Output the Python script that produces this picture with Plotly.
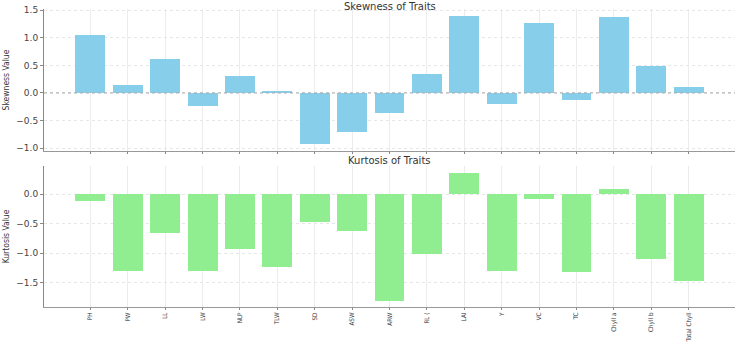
import plotly.graph_objects as go

traits = ["PH", "PW", "LL", "LW", "NLP", "TLW", "SD", "ASW", "ARW", "RL (",
          "LAI", "Y", "VC", "TC", "Chyll a", "Chyll b", "Total Chyll"]
skewness = [1.05, 0.145, 0.61, -0.235, 0.31, 0.02, -0.93, -0.71, -0.36, 0.34,
            1.40, -0.205, 1.26, -0.12, 1.37, 0.495, 0.11]
kurtosis = [-0.12, -1.30, -0.66, -1.30, -0.93, -1.24, -0.48, -0.63, -1.80, -1.02,
            0.365, -1.30, -0.08, -1.31, 0.09, -1.09, -1.47]

title_top = "Skewness of Traits"
title_bottom = "Kurtosis of Traits"
ylabel_top = "Skewness Value"
ylabel_bottom = "Kurtosis Value"

W, H = 735, 343
ML, MR, MT, MB = 44, 0, 9, 36
plot_h = H - MT - MB
top_dom = [(H - MB - 151) / plot_h, 1.0]
bot_dom = [0.0, (H - MB - 166) / plot_h]

tick_font = dict(family="DejaVu Sans", size=9, color="#444444")
narrow = "Liberation Sans Narrow, DejaVu Sans Condensed, Arial Narrow, sans-serif"

fig = go.Figure()
fig.add_trace(go.Bar(x=traits, y=skewness, width=0.8, marker=dict(color="#87CEEB", line=dict(width=0)),
                     xaxis="x", yaxis="y", showlegend=False))
fig.add_trace(go.Bar(x=traits, y=kurtosis, width=0.8, marker=dict(color="#90EE90", line=dict(width=0)),
                     xaxis="x2", yaxis="y2", showlegend=False))

xcommon = dict(type="category", range=[-1.24, 17.24], showgrid=True, gridcolor="#ececec",
               gridwidth=1, showline=True, linecolor="#999999", linewidth=1,
               ticks="outside", ticklen=2, tickcolor="#888888", zeroline=False,
               categoryorder="array", categoryarray=traits, automargin=False)
ycommon = dict(showgrid=True, gridcolor="#e6e6e6", griddash="dot", gridwidth=1,
               showline=True, linecolor="#888888", linewidth=1, ticks="outside", ticklen=3,
               tickcolor="#888888", tickfont=tick_font, zeroline=False, tickformat=".1f",
               automargin=False)

fig.update_layout(
    width=W, height=H,
    margin=dict(l=ML, r=MR, t=MT, b=MB, pad=0),
    paper_bgcolor="white", plot_bgcolor="white",
    bargap=0,
    xaxis=dict(xcommon, anchor="y", domain=[0, 1], showticklabels=False),
    xaxis2=dict(xcommon, anchor="y2", domain=[0, 1], showticklabels=True, tickangle=-90,
                tickfont=dict(family=narrow, size=6.3, color="#333333")),
    yaxis=dict(ycommon, anchor="x", domain=top_dom, range=[-1.05, 1.52],
               tickvals=[-1.0, -0.5, 0.0, 0.5, 1.0, 1.5],
               title=dict(text=ylabel_top, standoff=5, font=dict(family=narrow, size=8.5, color="#333333"))),
    yaxis2=dict(ycommon, anchor="x2", domain=bot_dom, range=[-1.91, 0.475],
                tickvals=[-1.5, -1.0, -0.5, 0.0],
                title=dict(text=ylabel_bottom, standoff=5, font=dict(family=narrow, size=8.5, color="#333333"))),
    annotations=[
        dict(text=title_top, xref="paper", yref="paper", x=0.5, y=1 + MT / plot_h, xanchor="center",
             yanchor="top", showarrow=False, borderpad=0,
             font=dict(family="DejaVu Sans", size=10, color="#333333")),
        dict(text=title_bottom, xref="paper", yref="paper", x=0.5, y=bot_dom[1], xanchor="center",
             yanchor="middle", yshift=5.5, showarrow=False, borderpad=0,
             font=dict(family="DejaVu Sans", size=10, color="#333333")),
    ],
)
fig.add_hline(y=0, line=dict(color="#aaaaaa", width=1, dash="dot"), xref="x", yref="y")

fig.write_html("out.html")
